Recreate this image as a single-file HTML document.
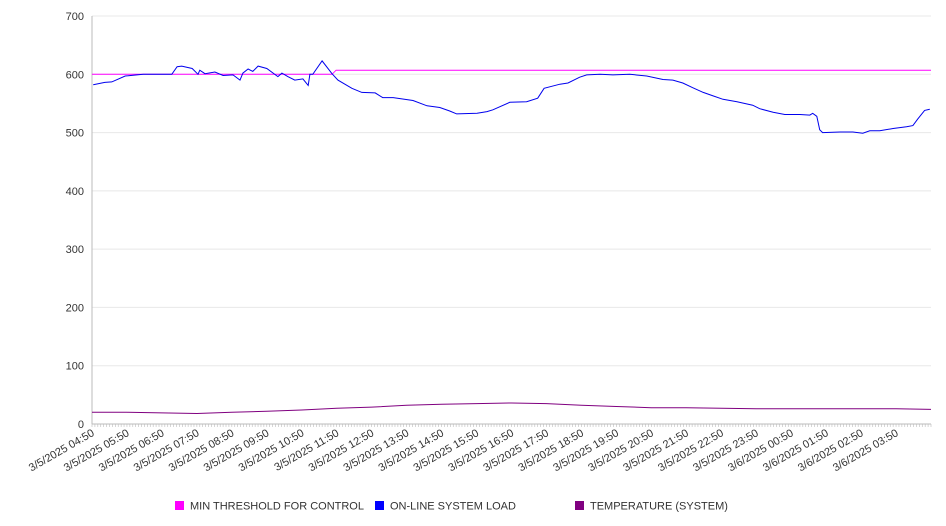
<!DOCTYPE html>
<html><head><meta charset="utf-8"><style>
body{margin:0;background:#fff;font-family:"Liberation Sans","DejaVu Sans",sans-serif}
svg{display:block}
</style></head><body>
<svg id="c" width="946" height="526"></svg>
<script>
const yTicks=[0,100,200,300,400,500,600,700];
const xTickLabels=["3/5/2025 04:50","3/5/2025 05:50","3/5/2025 06:50","3/5/2025 07:50","3/5/2025 08:50","3/5/2025 09:50","3/5/2025 10:50","3/5/2025 11:50","3/5/2025 12:50","3/5/2025 13:50","3/5/2025 14:50","3/5/2025 15:50","3/5/2025 16:50","3/5/2025 17:50","3/5/2025 18:50","3/5/2025 19:50","3/5/2025 20:50","3/5/2025 21:50","3/5/2025 22:50","3/5/2025 23:50","3/6/2025 00:50","3/6/2025 01:50","3/6/2025 02:50","3/6/2025 03:50"];
const loadMinutes=[2,22,34,57,88,120,137,146,154,172,182,185,194,211,225,242,254,259,268,276,285,300,319,326,336,348,362,371,374,379,395,412,422,446,463,486,499,517,551,575,597,614,626,661,678,688,717,746,765,776,803,817,837,849,872,894,923,952,980,997,1014,1031,1049,1066,1083,1107,1134,1146,1169,1189,1215,1232,1237,1244,1249,1254,1284,1306,1323,1335,1352,1375,1398,1409,1417,1429,1438];
const loadValues=[582,586,587,597,600,600,600,613,614,610,600,607,601,604,598,599,590,602,609,605,614,610,596,602,596,590,592,581,600,600,623,601,590,576,569,568,560,560,555,546,543,537,532,533,536,539,552,553,559,576,583,585,595,599,600,599,600,597,591,590,585,577,569,563,557,553,547,541,535,531,531,530,533,528,505,500,501,501,499,503,503,507,510,512,523,538,540];
const thrMinutes=[0,412,419,1440];
const thrValues=[600,600,607,607];
const tempMinutes=[0,60,120,180,240,300,360,420,480,540,600,660,720,780,840,900,960,1020,1080,1140,1200,1260,1320,1380,1440];
const tempValues=[20,20,19,18,20,22,24,27,29,32,34,35,36,35,32,30,28,28,27,26,26,26,26,26,25];
const X0=92,X1=931,Y0=424,Y1=16;
const xs=m=>X0+m/1440*(X1-X0);
const ys=v=>Y0-v/700*(Y0-Y1);
const svg=document.getElementById('c');const NS='http://www.w3.org/2000/svg';
function mk(t,a,p){const e=document.createElementNS(NS,t);for(const k in a)e.setAttribute(k,a[k]);(p||svg).appendChild(e);return e;}
yTicks.forEach(v=>{
 const g=mk('line',{x1:X0,x2:X1,y1:ys(v),y2:ys(v),stroke:v===0?'#bbb':'#e8e8e8','stroke-width':1});
 
 
 const t=mk('text',{x:84,y:ys(v)+4,'text-anchor':'end','font-size':11,fill:'#333'});t.textContent=v;
 
 
});
const ax=mk('line',{x1:X0,x2:X0,y1:Y1,y2:Y0,stroke:'#bbb'});


for(let m=0;m<=1440;m+=5){const l=mk('line',{x1:xs(m),x2:xs(m),y1:Y0,y2:Y0+3,stroke:'#bbb','stroke-width':0.6});
 
 }
xTickLabels.forEach((s,i)=>{
 const x=xs(i*60)+3,y=Y0+11;
 const t=mk('text',{x:x,y:y,'text-anchor':'end','font-size':11,fill:'#333',transform:`rotate(-30 ${x} ${y})`});t.textContent=s;
 
 
});
function line(ms,vs,color,name){
 const d=ms.map((m,i)=>(i?'L':'M')+xs(m).toFixed(1)+' '+ys(vs[i]).toFixed(1)).join(' ');
 const p=mk('path',{d:d,fill:'none',stroke:color,'stroke-width':1});
 
 
}
line(thrMinutes,thrValues,'#ff00ff','threshold-line');
line(tempMinutes,tempValues,'#800080','temperature-line');
line(loadMinutes,loadValues,'#0000ee','load-line');
const leg=[['#ff00ff','MIN THRESHOLD FOR CONTROL',175],['#0000ff','ON-LINE SYSTEM LOAD',375],['#800080','TEMPERATURE (SYSTEM)',575]];
leg.forEach(l=>{
 const g=mk('g',{});
 
 
 mk('rect',{x:l[2],y:501,width:9,height:9,fill:l[0]},g);
 const t=mk('text',{x:l[2]+15,y:509.5,'font-size':11,fill:'#333'},g);t.textContent=l[1];
});
</script>
</body></html>
